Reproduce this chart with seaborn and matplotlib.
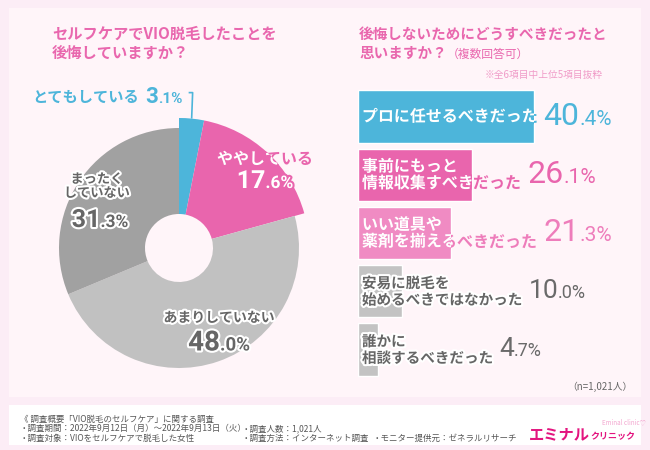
import numpy as np
import pandas as pd
import matplotlib
matplotlib.use('Agg')
import matplotlib.pyplot as plt
import matplotlib.patheffects as pe
from matplotlib.patches import Rectangle
from matplotlib.offsetbox import TextArea, HPacker, AnnotationBbox
import seaborn as sns

# left: pie (How much do you regret?)
pie_labels = ['とてもしている', 'ややしている', 'あまりしていない', 'まったく\nしていない']
pie_values = [3.1, 17.6, 48.0, 31.3]
pie_colors = ['#4DB5DA', '#E965AD', '#C1C1C1', '#A1A1A1']

# right: bars (what should you have done)
bar_labels = ['プロに任せるべきだった', '事前にもっと\n情報収集すべきだった',
              'いい道具や\n薬剤を揃えるべきだった', '安易に脱毛を\n始めるべきではなかった',
              '誰かに\n相談するべきだった']
bar_values = [40.4, 26.1, 21.3, 10.0, 4.7]
bar_colors = ['#4DB5DA', '#E965AD', '#F08BC3', '#C3C3C3', '#C3C3C3']
pct_colors = ['#4DB5DA', '#E965AD', '#EE7DBB', '#6A6A6A', '#6A6A6A']

PINK = '#E967AE'
GRAY_TXT = '#666666'
NUM_FONT = ['Roboto', 'DejaVu Sans']

sns.set_theme(style='white')
plt.rcParams['font.family'] = ['Noto Sans CJK JP', 'DejaVu Sans']

W, H = 650, 450
fig = plt.figure(figsize=(6.5, 4.5), dpi=100)
fig.patch.set_facecolor('#FCEDF6')


def frac(x, y, w, h):
    # pixel box (top-left origin) -> figure fraction
    return [x / W, 1 - (y + h) / H, w / W, h / H]


fig.add_artist(Rectangle((9 / W, 1 - 397 / H), 632 / W, 389 / H, transform=fig.transFigure,
                         fc='#FFF5F9', ec='none', zorder=-2))
fig.add_artist(Rectangle((9 / W, 1 - 445 / H), 632 / W, 40 / H, transform=fig.transFigure,
                         fc='white', ec='none', zorder=-2))


def pct_box(value, big, small, color, stroke=None, weight='normal'):
    whole, dec = f'{value:.1f}'.split('.')
    props = dict(color=color, family=NUM_FONT, weight=weight)
    if stroke:
        props['path_effects'] = [pe.withStroke(linewidth=3, foreground=stroke)]
    a = TextArea(whole, textprops=dict(size=big, **props))
    b = TextArea('.' + dec + '%', textprops=dict(size=small, **props))
    return HPacker(children=[a, b], align='baseline', pad=0, sep=0)


# ---------------- pie ----------------
cx, cy = 179, 248
ax_pie = fig.add_axes(frac(cx - 140, cy - 140, 280, 280))
wedges, _ = ax_pie.pie(pie_values, colors=pie_colors, startangle=90, counterclock=False,
                       radius=130, wedgeprops=dict(width=96, linewidth=0))
for w, r in zip(wedges, [130, 130, 120, 120]):
    w.set_radius(r)
    w.set_width(r - 34)
ax_pie.set_xlim(-140, 140)
ax_pie.set_ylim(-140, 140)
ax_pie.set_aspect('equal')
ax_pie.axis('off')

# blue: leader line + label
blue = wedges[0]
mid = np.deg2rad((blue.theta1 + blue.theta2) / 2)
x0, y0 = 130 * np.cos(mid), 130 * np.sin(mid)
ax_pie.plot([x0, x0 + 1, x0 - 3], [y0, y0 + 26, y0 + 26], color=pie_colors[0], lw=1.2,
            clip_on=False, solid_capstyle='butt')
t_blue = ax_pie.text(-147, 151, pie_labels[0], color=pie_colors[0], size=11, weight='bold',
                     ha='left', va='center')
ax_pie.add_artist(AnnotationBbox(pct_box(pie_values[0], 16, 11, pie_colors[0], weight='bold'),
                                 xy=(1, 0.5), xycoords=t_blue, xybox=(5, 0),
                                 boxcoords='offset points', box_alignment=(0, 0.5),
                                 frameon=False))

# pink: white text clipped to the wedge, pink outside
pink = wedges[1]
ax_pie.text(86, 89, pie_labels[1], color=pie_colors[1], size=11.5, weight='bold',
            ha='center', va='center')
t = ax_pie.text(86, 89, pie_labels[1], color='white', size=11.5, weight='bold',
                ha='center', va='center',
                path_effects=[pe.withStroke(linewidth=3, foreground=pie_colors[1])])
t.set_clip_path(pink)
t.set_clip_on(True)
ax_pie.add_artist(AnnotationBbox(pct_box(pie_values[1], 18, 12.5, 'white', stroke=pie_colors[1],
                                         weight='bold'),
                                 xy=(86, 67), xycoords='data', box_alignment=(0.5, 0.5),
                                 frameon=False))

# grays
halo = [pe.withStroke(linewidth=3, foreground='white')]
ax_pie.text(40, -70, pie_labels[2], color=GRAY_TXT, size=10, weight='bold',
            ha='center', va='center', path_effects=halo)
ax_pie.add_artist(AnnotationBbox(pct_box(pie_values[2], 20, 13.5, GRAY_TXT, stroke='white',
                                         weight='bold'),
                                 xy=(40, -95), xycoords='data', box_alignment=(0.5, 0.5),
                                 frameon=False))
ax_pie.text(-82, 62, pie_labels[3], color=GRAY_TXT, size=9.5, weight='bold',
            ha='center', va='center', path_effects=halo, linespacing=1.0)
ax_pie.add_artist(AnnotationBbox(pct_box(pie_values[3], 18, 12.5, GRAY_TXT, stroke='white',
                                         weight='bold'),
                                 xy=(-79, 28), xycoords='data', box_alignment=(0.5, 0.5),
                                 frameon=False))

# ---------------- bars ----------------
df = pd.DataFrame({'item': bar_labels, 'pct': bar_values})
pitch = 58.25
ax_bar = fig.add_axes(frac(358, 116.5 - pitch / 2, 4.36 * 60, pitch * 5))
sns.barplot(data=df, x='pct', y='item', hue='item', palette=bar_colors, orient='h',
            width=0.893, saturation=1, legend=False, ax=ax_bar)
ax_bar.set_xlim(0, 60)
ax_bar.set_ylim(4.5, -0.5)
ax_bar.axis('off')

for i, (lab, patch) in enumerate(zip(bar_labels, ax_bar.patches)):
    if i < 3:
        base = ax_bar.text(0.9, i, lab, color=pct_colors[i], size=11.5, weight='bold',
                           ha='left', va='center', linespacing=1.05)
        top = ax_bar.text(0.9, i, lab, color='white', size=11.5, weight='bold',
                          ha='left', va='center', linespacing=1.05,
                          path_effects=[pe.withStroke(linewidth=3, foreground=bar_colors[i])])
        top.set_clip_path(patch)
        top.set_clip_on(True)
        big, small = 23, 15
    else:
        base = ax_bar.text(0.9, i, lab, color=GRAY_TXT, size=10.5, weight='bold',
                           ha='left', va='center', linespacing=1.05, path_effects=halo)
        big, small = 19, 13
    ax_bar.add_artist(AnnotationBbox(pct_box(bar_values[i], big, small, pct_colors[i]),
                                     xy=(1, 0.5), xycoords=base, xybox=(4, 0),
                                     boxcoords='offset points', box_alignment=(0, 0.5),
                                     frameon=False))

# ---------------- titles & notes ----------------
fig.text(52 / W, 1 - 34 / H, 'セルフケアでVIO脱毛したことを', color=PINK, size=11,
         weight='bold', va='center')
fig.text(52 / W, 1 - 53 / H, '後悔していますか？', color=PINK, size=11, weight='bold', va='center')
fig.text(359 / W, 1 - 34 / H, '後悔しないためにどうすべきだったと', color=PINK, size=10.5,
         weight='bold', va='center')
q2 = HPacker(children=[TextArea('思いますか？', textprops=dict(size=10.5, color=PINK, weight='bold')),
                       TextArea('（複数回答可）', textprops=dict(size=8.5, color=PINK))],
             align='baseline', pad=0, sep=0)
fig.add_artist(AnnotationBbox(q2, xy=(359, H - 53), xycoords='figure pixels',
                              box_alignment=(0, 0.5), frameon=False))
fig.text(603 / W, 1 - 75 / H, '※全6項目中上位5項目抜粋', color='#F09CC8', size=7, ha='right',
         va='center')
fig.text(633 / W, 1 - 387 / H, '（n=1,021人）', color=GRAY_TXT, size=7, ha='right', va='center')

# footer
foot = dict(color='#555555', size=6.1, va='center')
fig.text(20 / W, 1 - 419 / H, '《 調査概要「VIO脱毛のセルフケア」に関する調査', **foot)
fig.text(20 / W, 1 - 428.5 / H, '・調査期間：2022年9月12日（月）～2022年9月13日（火）', **foot)
fig.text(20 / W, 1 - 438 / H, '・調査対象：VIOをセルフケアで脱毛した女性', **foot)
fig.text(242 / W, 1 - 428.5 / H, '・調査人数：1,021人', **foot)
fig.text(242 / W, 1 - 438 / H, '・調査方法：インターネット調査', **foot)
fig.text(373 / W, 1 - 438 / H, '・モニター提供元：ゼネラルリサーチ', **foot)
logo = HPacker(children=[TextArea('エミナル', textprops=dict(size=11, color='#E3147F', weight='bold')),
                         TextArea('クリニック', textprops=dict(size=6.5, color='#E3147F', weight='bold'))],
               align='baseline', pad=0, sep=0)
fig.add_artist(AnnotationBbox(logo, xy=(529, H - 434), xycoords='figure pixels',
                              box_alignment=(0, 0.5), frameon=False))
fig.text(624 / W, 1 - 422 / H, 'Eminal clinic♡', color='#F3A6CF', size=4.5, ha='center',
         va='center', style='italic')

fig.savefig('out.png', dpi=100, facecolor=fig.get_facecolor())
